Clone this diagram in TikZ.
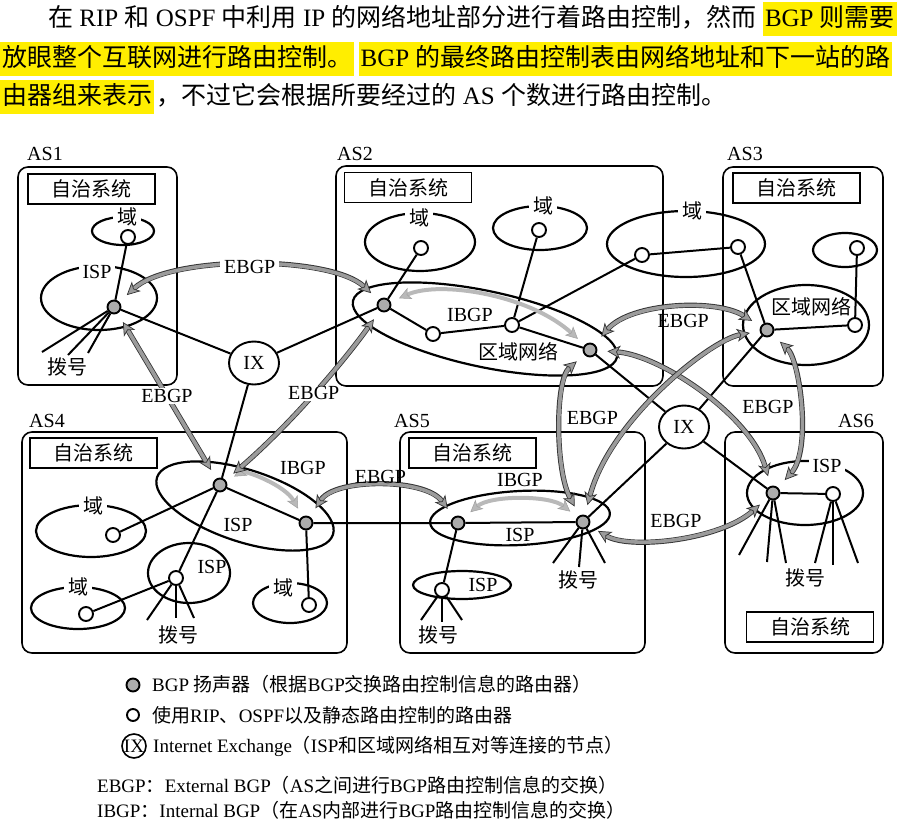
\documentclass[tikz,border=0pt]{standalone}
\usepackage{fontspec}
\setmainfont{Liberation Serif}
\newfontfamily\cjk{Noto Sans CJK SC}
\usetikzlibrary{positioning,arrows.meta,shapes.geometric}
\definecolor{hlyellow}{RGB}{255,238,0}
\definecolor{bandgray}{RGB}{155,155,155}
\definecolor{ibgpgray}{RGB}{185,185,185}

% switch to the CJK family for Chinese characters
\XeTeXinterchartokenstate=1
\newXeTeXintercharclass\cjkclass
\newcount\cjkcode
\cjkcode="3000
\loop \XeTeXcharclass\cjkcode=\cjkclass
  \ifnum\cjkcode<"9FFF \advance\cjkcode by 1 \repeat
\cjkcode="FF00
\loop \XeTeXcharclass\cjkcode=\cjkclass
  \ifnum\cjkcode<"FFEF \advance\cjkcode by 1 \repeat
\XeTeXinterchartoks 0 \cjkclass = {\cjk}
\XeTeXinterchartoks 4095 \cjkclass = {\cjk}
\XeTeXinterchartoks \cjkclass 0 = {\rmfamily}
\XeTeXinterchartoks \cjkclass 4095 = {\rmfamily}

\newcommand\lbl{\fontsize{20}{23}\selectfont}
\newcommand\legendfont{\fontsize{19}{22}\selectfont}

\tikzset{
  asbox/.style={draw, line width=1.6pt, rounded corners=10pt, inner sep=0pt},
  titlebox/.style={draw, line width=1.8pt, font=\lbl, inner sep=0pt, minimum width=127pt, minimum height=30pt},
  region/.style={ellipse, draw, line width=2.2pt, inner sep=0pt},
  router/.style={circle, draw, line width=1.9pt, fill=white, minimum size=14pt, inner sep=0pt},
  speaker/.style={circle, draw, line width=1.9pt, fill=gray!65, minimum size=13pt, inner sep=0pt},
  ixnode/.style={ellipse, draw, line width=1.9pt, fill=white, minimum width=50pt, minimum height=43pt, inner sep=0pt, font=\lbl},
  link/.style={line width=2pt},
  tag/.style={font=\lbl, inner sep=1pt},
  gap/.style={tag, fill=white, inner xsep=4pt},
  legend/.style={font=\legendfont, inner sep=0pt, anchor=west},
  para/.style={font=\fontsize{25}{29}\selectfont, inner sep=0pt, text height=20pt, text depth=5pt, anchor=west},
  hl/.style={fill=hlyellow, inner xsep=2pt, inner ysep=4.5pt},
  ebgp/.style={draw=bandgray, line width=3.6pt,
    {Stealth[length=13pt,width=13pt,inset=3.5pt,fill=bandgray,color=black!80,line width=.7pt]}-{Stealth[length=13pt,width=13pt,inset=3.5pt,fill=bandgray,color=black!80,line width=.7pt]},
    shorten <=10pt, shorten >=10pt,
    preaction={draw=black!80, line width=5.2pt, arrows=-, shorten <=20pt, shorten >=20pt}},
  ibgp/.style={draw=ibgpgray, line width=4pt,
    {Stealth[length=12pt,width=12pt,inset=3pt,fill=ibgpgray,color=gray!75,line width=.5pt]}-{Stealth[length=12pt,width=12pt,inset=3pt,fill=ibgpgray,color=gray!75,line width=.5pt]},
    shorten <=9pt, shorten >=9pt},
}

\begin{document}
\begin{tikzpicture}[x=1pt, y=-1pt]
\useasboundingbox (0,0) rectangle (897,830);

% text above the figure
\node[para] (p1a) at (48,19) {在 RIP 和 OSPF 中利用 IP 的网络地址部分进行着路由控制，然而};
\node[para, hl] (p1b) at ([xshift=6pt]p1a.east) {BGP 则需要};
\node[para, hl] (p2a) at (0,59) {放眼整个互联网进行路由控制。};
\node[para, hl] (p2b) at ([xshift=4pt]p2a.east) {BGP 的最终路由控制表由网络地址和下一站的路};
\node[para, hl] (p3a) at (0,97) {由器组来表示};
\node[para] (p3b) at ([xshift=2pt]p3a.east) {，不过它会根据所要经过的 AS 个数进行路由控制。};

% autonomous systems
\node[asbox, minimum width=159pt, minimum height=218pt] (as1) at (97.5,276) {};
\node[asbox, minimum width=327pt, minimum height=220pt] (as2) at (499.5,276) {};
\node[asbox, minimum width=160pt, minimum height=219pt] (as3) at (803,276.5) {};
\node[asbox, minimum width=325pt, minimum height=221pt] (as4) at (184.5,542.5) {};
\node[asbox, minimum width=245pt, minimum height=221pt] (as5) at (522.5,542.5) {};
\node[asbox, minimum width=158pt, minimum height=221pt] (as6) at (804,542.5) {};
\node[tag] (n1) at (45,154) {AS1};
\node[tag] (n2) at (355,154) {AS2};
\node[tag] (n3) at (745,154) {AS3};
\node[tag] (n4) at (47,421) {AS4};
\node[tag] (n5) at (412,421) {AS5};
\node[tag] (n6) at (856,421) {AS6};
\foreach \i/\x/\y in {1/91.5/189, 2/408/187.5, 3/796.5/188, 4/93.5/453, 5/472.5/453, 6/810/627}
  \node[titlebox] (t\i) at (\x,\y) {自治系统};

% domains, ISPs and regional networks
\node[region, minimum width=62pt, minimum height=28pt] (d11) at (123,231) {};
\node[region, minimum width=116pt, minimum height=64pt] (isp1) at (99,298) {};
\node[region, minimum width=110pt, minimum height=58pt] (d21) at (420,242) {};
\node[region, minimum width=94pt, minimum height=44pt] (d22) at (540,228) {};
\node[region, minimum width=158pt, minimum height=66pt] (d23) at (686,244) {};
\node[region, minimum width=270pt, minimum height=76pt, rotate=-12] (rn2) at (485,329) {};
\node[region, minimum width=64pt, minimum height=34pt] (d31) at (845,250) {};
\node[region, minimum width=126pt, minimum height=80pt] (rn3) at (806,325) {};
\node[region, minimum width=185pt, minimum height=72pt, rotate=-18] (isp4) at (245,506) {};
\node[region, minimum width=110pt, minimum height=52pt] (d41) at (91,531) {};
\node[region, minimum width=94pt, minimum height=42pt] (d42) at (78,608) {};
\node[region, minimum width=82pt, minimum height=60pt] (isp42) at (189,573) {};
\node[region, minimum width=74pt, minimum height=40pt] (d43) at (290,603) {};
\node[region, minimum width=180pt, minimum height=54pt, rotate=3] (isp5) at (520,518) {};
\node[region, minimum width=98pt, minimum height=28pt] (isp52) at (462,585) {};
\node[region, minimum width=116pt, minimum height=64pt] (isp6) at (805,493) {};

% routers
\node[speaker] (s1) at (114,307) {};
\node[router] (r11) at (128,237) {};
\node[ixnode] (ix1) at (254,363) {IX};
\node[speaker] (s2a) at (384,305) {};
\node[router] (r21) at (421,248) {};
\node[router] (r22) at (433,334) {};
\node[router] (r23) at (512,325) {};
\node[router] (r24) at (539,230) {};
\node[router] (r25) at (642,255) {};
\node[speaker] (s2b) at (590,350) {};
\node[router] (r31) at (738,247) {};
\node[speaker] (s3) at (767,330) {};
\node[router] (r32) at (855,325) {};
\node[router] (r33) at (857,248) {};
\node[ixnode] (ix2) at (684,427) {IX};
\node[speaker] (s4a) at (220,485) {};
\node[speaker] (s4b) at (306,523) {};
\node[router] (r41) at (113,535) {};
\node[router] (r42) at (176,578) {};
\node[router] (r43) at (86,614) {};
\node[router] (r44) at (309,605) {};
\node[speaker] (s5a) at (458,523) {};
\node[speaker] (s5b) at (583,522) {};
\node[router] (r51) at (442,590) {};
\node[speaker] (s6) at (773,493) {};
\node[router] (r61) at (833,494) {};

% links
\draw[link] (s1) -- (r11) (s1) -- (ix1) (ix1) -- (s2a) (ix1) -- (s4a)
  (s2a) -- (r21) (s2a) -- (r22) -- (r23) -- (s2b) (r23) -- (r24) (r23) -- (r25) -- (r31)
  (s2b) -- (ix2) (s3) -- (r31) (s3) -- (r32) -- (r33) (s3) -- (ix2)
  (ix2) -- (s5b) (ix2) -- (s6)
  (s4a) -- (s4b) -- (s5a) -- (s5b) (s4a) -- (r41) (s4a) -- (r42) -- (r43) (s4b) -- (r44)
  (s5a) -- (r51) (s6) -- (r61);

% dial-up lines
\foreach \n/\x/\y [count=\i] in {s1/42/352, s1/68/355, s1/88/353,
    r42/147/620, r42/176/618, r42/194/618, r51/421/620, r51/442/622, r51/462/620,
    s5b/553/563, s5b/579/567, s5b/605/563, s6/739/555, s6/767/562, s6/786/563,
    r61/815/563, r61/833/565, r61/858/563} {
  \coordinate (dial\i) at (\x,\y);
  \draw[link] (\n) -- (dial\i);
}

% IBGP
\draw[ibgp] (s2a) .. controls (440,280) and (530,295) .. (s2b);
\draw[ibgp] (s4a) .. controls (245,470) and (285,485) .. (s4b);
\draw[ibgp] (s5a) .. controls (490,495) and (550,495) .. (s5b);

% EBGP
\draw[ebgp] (s1) .. controls (170,255) and (330,255) .. (s2a) node[gap, pos=.5] {EBGP};
\draw[ebgp] (s1) -- (s4a) node[gap, midway] {EBGP};
\draw[ebgp] (s2a) .. controls (345,360) and (290,425) .. (s4a) node[gap, pos=.5] {EBGP};
\draw[ebgp] (s4b) .. controls (335,478) and (425,478) .. (s5a) node[tag, pos=.5, above=1pt] {EBGP};
\draw[ebgp] (s2b) .. controls (630,303) and (715,298) .. (s3) node[tag, pos=.55, below=3pt] {EBGP};
\draw[ebgp] (s2b) .. controls (660,355) and (750,415) .. (s6);
\draw[ebgp] (s3) .. controls (710,340) and (610,420) .. (s5b);
\draw[ebgp] (s2b) .. controls (555,380) and (555,470) .. (s5b) node[tag, pos=.45, right=2pt] {EBGP};
\draw[ebgp] (s3) .. controls (800,360) and (812,450) .. (s6) node[tag, pos=.5, left=2pt] {EBGP};
\draw[ebgp] (s5b) .. controls (630,550) and (720,540) .. (s6) node[tag, pos=.5, above=6pt] {EBGP};

% labels
\node[tag] (ib2) at (470,315) {IBGP};
\node[tag] (ib4) at (303,468) {IBGP};
\node[tag] (ib5) at (520,480) {IBGP};
\node[tag] (rl2) at (518,352) {区域网络};
\node[tag] (rl3) at (811,307) {区域网络};
\node[gap] (li1) at (97,272) {ISP};
\node[tag] (li4) at (238,525) {ISP};
\node[tag] (li42) at (212,567) {ISP};
\node[tag] (li5) at (520,535) {ISP};
\node[tag] (li52) at (483,585) {ISP};
\node[gap] (li6) at (827,466) {ISP};
\node[gap] (ld11) at (127,217) {域};
\node[gap] (ld21) at (419,218) {域};
\node[gap] (ld22) at (543,206) {域};
\node[gap] (ld23) at (692,211) {域};
\node[gap] (ld41) at (93,506) {域};
\node[gap] (ld42) at (78,587) {域};
\node[gap] (ld43) at (283,588) {域};
\foreach \x/\y [count=\i] in {67/367, 178/635, 438/635, 578/580, 805/578}
  \node[tag] (dl\i) at (\x,\y) {拨号};

% legend
\node[speaker, minimum size=13pt] (lg1) at (133,685) {};
\node[legend] (lt1) at (152,684) {BGP 扬声器（根据BGP交换路由控制信息的路由器）};
\node[router, minimum size=12pt] (lg2) at (133,715) {};
\node[legend] (lt2) at (152,715) {使用RIP、OSPF以及静态路由控制的路由器};
\node[circle, draw, line width=1.6pt, minimum size=24pt, inner sep=0pt, font=\legendfont] (lg3) at (134,746) {IX};
\node[legend] (lt3) at (153,746) {Internet Exchange（ISP和区域网络相互对等连接的节点）};
\node[legend] (lt4) at (97,785) {EBGP：External BGP（AS之间进行BGP路由控制信息的交换）};
\node[legend] (lt5) at (97,810) {IBGP：Internal BGP（在AS内部进行BGP路由控制信息的交换）};
\end{tikzpicture}
\end{document}
